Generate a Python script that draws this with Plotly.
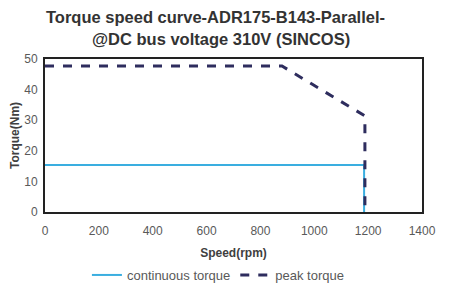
import plotly.graph_objects as go

cont_speed = [0, 1185, 1185]
cont_torque = [15.4, 15.4, 0]
peak_speed = [0, 880, 1188, 1188]
peak_torque = [47.7, 47.7, 31.4, 0]
x_ticks = [0, 200, 400, 600, 800, 1000, 1200, 1400]
y_ticks = [0, 10, 20, 30, 40, 50]
title_lines = ["Torque speed curve-ADR175-B143-Parallel-", "@DC bus voltage 310V (SINCOS)"]

fig = go.Figure()
fig.add_trace(go.Scatter(x=cont_speed, y=cont_torque, mode="lines", name="continuous torque",
                         line=dict(color="#3aaee0", width=2)))
fig.add_trace(go.Scatter(x=peak_speed, y=peak_torque, mode="lines", name="peak torque",
                         line=dict(color="#2e2d5e", width=3, dash="dash")))

title_x = [0.451, 0.467]
title_shift = [31, 9]
for i, t in enumerate(title_lines):
    fig.add_annotation(text="<b>" + t + "</b>", xref="paper", yref="paper", x=title_x[i], xanchor="center",
                       y=1.0, yanchor="bottom", yshift=title_shift[i], showarrow=False,
                       font=dict(family="Liberation Sans, Arial", size=16.5, color="#333333"))

fig.update_layout(
    width=461, height=288,
    margin=dict(l=37, r=47, t=51, b=84),
    paper_bgcolor="white", plot_bgcolor="white",
    font=dict(family="Liberation Sans, Arial", color="#595959"),
    legend=dict(orientation="h", x=0.46, xanchor="center", yref="container", y=0.125, yanchor="top",
                font=dict(size=13, color="#595959")),
    showlegend=True,
)
fig.update_xaxes(range=[0, 1400], tickvals=x_ticks, showgrid=False, zeroline=False, automargin=False,
                 showline=True, linecolor="#222222", linewidth=2, mirror=True,
                 ticklabelstandoff=7,
                 tickfont=dict(size=12, color="#595959"),
                 title=dict(text="<b>Speed(rpm)</b>", font=dict(size=12, color="#404040"), standoff=11))
fig.update_yaxes(range=[0, 50], tickvals=y_ticks, showgrid=False, zeroline=False, automargin=False,
                 showline=True, linecolor="#222222", linewidth=2, mirror=True,
                 ticklabelstandoff=3,
                 tickfont=dict(size=12, color="#595959"),
                 title=dict(text="<b>Torque(Nm)</b>", font=dict(size=12, color="#404040"), standoff=18))

fig.write_html("out.html")
